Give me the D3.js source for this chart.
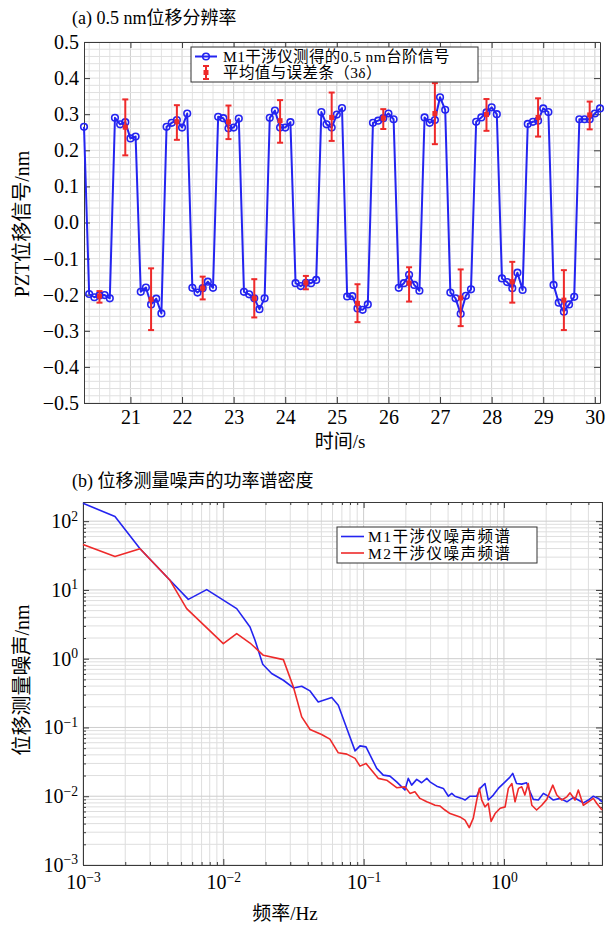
<!DOCTYPE html>
<html><head><meta charset="utf-8">
<script src="https://cdn.jsdelivr.net/npm/d3@7"></script>
<style>
body{margin:0;background:#fff}
svg text{font-family:"Liberation Serif","Noto Sans CJK SC",serif;fill:#000}
</style>
</head><body>
<svg id="c" width="608" height="927"></svg>
<script>
// ---------- (a) step signal data ----------
const timeS = [20.1,
 20.2,20.3,20.4,20.5,20.6, 20.7,20.8,20.9,21.0,21.1,
 21.2,21.3,21.4,21.5,21.6, 21.7,21.8,21.9,22.0,22.1,
 22.2,22.3,22.4,22.5,22.6, 22.7,22.8,22.9,23.0,23.1,
 23.2,23.3,23.4,23.5,23.6, 23.7,23.8,23.9,24.0,24.1,
 24.2,24.3,24.4,24.5,24.6, 24.7,24.8,24.9,25.0,25.1,
 25.2,25.3,25.4,25.5,25.6, 25.7,25.8,25.9,26.0,26.1,
 26.2,26.3,26.4,26.5,26.6, 26.7,26.8,26.9,27.0,27.1,
 27.2,27.3,27.4,27.5,27.6, 27.7,27.8,27.9,28.0,28.1,
 28.2,28.3,28.4,28.5,28.6, 28.7,28.8,28.9,29.0,29.1,
 29.2,29.3,29.4,29.5,29.6, 29.7,29.8,29.9,30.0,30.1];
const signalNm = [0.265,
 -0.198,-0.207,-0.202,-0.201,-0.210, 0.290,0.272,0.278,0.233,0.238,
 -0.192,-0.180,-0.227,-0.211,-0.252, 0.265,0.276,0.284,0.263,0.302,
 -0.181,-0.194,-0.182,-0.164,-0.181, 0.293,0.289,0.261,0.263,0.288,
 -0.192,-0.199,-0.210,-0.240,-0.210, 0.290,0.310,0.263,0.263,0.278,
 -0.168,-0.176,-0.167,-0.168,-0.159, 0.306,0.272,0.263,0.299,0.317,
 -0.205,-0.204,-0.238,-0.242,-0.227, 0.276,0.282,0.289,0.302,0.286,
 -0.181,-0.168,-0.145,-0.173,-0.189, 0.291,0.276,0.284,0.347,0.312,
 -0.194,-0.210,-0.253,-0.203,-0.185, 0.279,0.291,0.305,0.319,0.300,
 -0.155,-0.165,-0.182,-0.139,-0.187, 0.273,0.279,0.282,0.316,0.306,
 -0.173,-0.222,-0.247,-0.227,-0.206, 0.286,0.286,0.286,0.302,0.316];
const errTime = [20.4,20.9,21.4,21.9,22.4,22.9,23.4,23.9,24.4,24.9,25.4,25.9,26.4,26.9,27.4,27.9,28.4,28.9,29.4,29.9];
const errMean = [-0.204,0.264,-0.213,0.279,-0.182,0.279,-0.210,0.282,-0.167,0.291,-0.224,0.289,-0.168,0.302,-0.209,0.299,-0.164,0.291,-0.215,0.298];
const errUpper = [-0.190,0.341,-0.127,0.325,-0.150,0.324,-0.157,0.339,-0.148,0.360,-0.171,0.314,-0.124,0.386,-0.130,0.342,-0.109,0.344,-0.132,0.335];
const errLower = [-0.222,0.186,-0.298,0.229,-0.213,0.231,-0.263,0.221,-0.185,0.226,-0.276,0.259,-0.219,0.217,-0.287,0.254,-0.222,0.238,-0.298,0.258];
const xTicksA = [21,22,23,24,25,26,27,28,29,30];
const yTicksA = [-0.5,-0.4,-0.3,-0.2,-0.1,0,0.1,0.2,0.3,0.4,0.5];

// ---------- (b) PSD data ----------
const m1Freq = [0.001,0.00169,0.00255,0.00417,0.00563,0.00762,0.01246,0.0155,0.01683,0.0191,0.0221,0.0268,0.0316,0.0362,0.0415,0.0475,0.0593,0.066,0.0759,0.0869,0.0942,0.104,0.124,0.138,0.154,0.172,0.197,0.208,0.220,0.239,0.259,0.282,0.297,0.332,0.370,0.402,0.425,0.448,0.50,0.528,0.573,0.64,0.676,0.733,0.774,0.84,0.912,1.02,1.10,1.155,1.23,1.34,1.45,1.535,1.62,1.76,1.91,2.07,2.25,2.51,2.81,3.13,3.39,3.68,4.0,4.34,4.71,5.0];
const m1Noise = [182,117,39.7,13.8,7.3,10.1,5.35,2.89,1.85,0.83,0.608,0.486,0.376,0.398,0.34,0.235,0.272,0.211,0.0966,0.0457,0.054,0.0522,0.0254,0.0203,0.0196,0.0162,0.0123,0.0182,0.0145,0.0176,0.0157,0.0182,0.0162,0.014,0.013,0.010,0.011,0.010,0.0093,0.0088,0.010,0.010,0.013,0.0153,0.0088,0.0104,0.013,0.0162,0.0188,0.0215,0.0153,0.015,0.0157,0.0116,0.009,0.0088,0.011,0.010,0.0088,0.0093,0.0083,0.0096,0.0088,0.008,0.0088,0.010,0.0093,0.0083];
const m2Freq = [0.001,0.00169,0.00255,0.00417,0.00548,0.010,0.01246,0.0155,0.0193,0.0268,0.0316,0.0362,0.0415,0.0502,0.0575,0.066,0.0759,0.0869,0.0942,0.104,0.127,0.146,0.172,0.197,0.214,0.232,0.252,0.282,0.297,0.323,0.351,0.38,0.413,0.448,0.486,0.528,0.566,0.605,0.64,0.668,0.695,0.733,0.774,0.81,0.865,0.94,1.02,1.075,1.14,1.2,1.27,1.34,1.41,1.49,1.58,1.71,1.86,2.02,2.23,2.38,2.58,2.81,2.96,3.21,3.39,3.68,4.0,4.34,4.58,5.0];
const m2Noise = [45.9,30.7,39.7,13.8,5.35,1.66,2.32,1.69,1.12,0.97,0.388,0.1426,0.0935,0.079,0.0676,0.0428,0.041,0.0355,0.0274,0.030,0.0182,0.0171,0.0133,0.0137,0.011,0.0116,0.0093,0.0083,0.008,0.0074,0.0072,0.0063,0.0056,0.0053,0.005,0.0045,0.0035,0.0048,0.0088,0.013,0.0088,0.007,0.0079,0.0043,0.0056,0.0067,0.007,0.013,0.0153,0.0083,0.013,0.0137,0.0104,0.0153,0.0074,0.0063,0.0074,0.009,0.0145,0.0104,0.0088,0.0098,0.0112,0.0088,0.0123,0.0074,0.0083,0.0093,0.0079,0.0063];
const xTicksB = [0.001,0.01,0.1,1];
const yTicksB = [0.001,0.01,0.1,1,10,100];

const FONT = '"Liberation Serif","Noto Sans CJK SC",serif';
const BLUE = "#2424f0", RED = "#ee2a2a", AXC = "#3a3a3a";
const TICKFS = 20;
const svg = d3.select("#c");

function styleAxis(g, size){
  g.attr("font-family", FONT).attr("font-size", size);
  g.select(".domain").attr("stroke", AXC).attr("stroke-width", 1);
  g.selectAll(".tick line").attr("stroke", AXC);
  g.selectAll(".tick text").attr("fill", "#000");
}

// ================= (a) =================
const xA = d3.scaleLinear().domain([20.1, 30.1]).range([84, 600]);
const yA = d3.scaleLinear().domain([-0.5, 0.5]).range([403, 42]);
const gA = svg.append("g");

// grid
gA.append("g").selectAll("line").data(xA.ticks(50)).join("line")
  .attr("x1", d => xA(d)).attr("x2", d => xA(d)).attr("y1", 42).attr("y2", 403)
  .attr("stroke", d => xTicksA.includes(Math.round(d*10)/10) ? "#cfcfcf" : "#e2e2e2").attr("stroke-width", 1);
gA.append("g").selectAll("line").data(yA.ticks(50)).join("line")
  .attr("y1", d => yA(d)).attr("y2", d => yA(d)).attr("x1", 84).attr("x2", 600)
  .attr("stroke", "#e0e0e0").attr("stroke-width", 1);

// axes
styleAxis(gA.append("g").attr("transform", "translate(0,403)")
  .call(d3.axisBottom(xA).tickValues(xTicksA).tickSize(-6).tickSizeOuter(0).tickPadding(7).tickFormat(d3.format("d"))), TICKFS);
styleAxis(gA.append("g").attr("transform", "translate(0,42)")
  .call(d3.axisTop(xA).tickValues(xTicksA).tickSize(-6).tickSizeOuter(0).tickFormat("")), TICKFS);
styleAxis(gA.append("g").attr("transform", "translate(84,0)")
  .call(d3.axisLeft(yA).tickValues(yTicksA).tickSize(-6).tickSizeOuter(0).tickPadding(5).tickFormat(d3.format(".1f"))), TICKFS);
styleAxis(gA.append("g").attr("transform", "translate(600,0)")
  .call(d3.axisRight(yA).tickValues(yTicksA).tickSize(-6).tickSizeOuter(0).tickFormat("")), TICKFS);

// signal line + markers
const ptsA = timeS.map((t, i) => [t, signalNm[i]]);
gA.append("path").datum(ptsA)
  .attr("d", d3.line().x(d => xA(d[0])).y(d => yA(d[1])))
  .attr("fill", "none").attr("stroke", BLUE).attr("stroke-width", 2).attr("stroke-linejoin", "round");
gA.append("g").selectAll("circle").data(ptsA).join("circle")
  .attr("cx", d => xA(d[0])).attr("cy", d => yA(d[1])).attr("r", 3.3)
  .attr("fill", "none").attr("stroke", BLUE).attr("stroke-width", 1.6);

// error bars
const eb = gA.append("g").selectAll("g").data(errTime.map((t, i) => ({t, m: errMean[i], u: errUpper[i], l: errLower[i]}))).join("g")
  .attr("stroke", RED).attr("stroke-width", 2);
eb.append("line").attr("x1", d => xA(d.t)).attr("x2", d => xA(d.t)).attr("y1", d => yA(d.u)).attr("y2", d => yA(d.l));
eb.append("line").attr("x1", d => xA(d.t) - 3).attr("x2", d => xA(d.t) + 3).attr("y1", d => yA(d.u)).attr("y2", d => yA(d.u));
eb.append("line").attr("x1", d => xA(d.t) - 3).attr("x2", d => xA(d.t) + 3).attr("y1", d => yA(d.l)).attr("y2", d => yA(d.l));
eb.append("rect").attr("x", d => xA(d.t) - 2.5).attr("y", d => yA(d.m) - 2.5).attr("width", 5).attr("height", 5)
  .attr("fill", RED).attr("stroke", "none");

// legend (a)
const lgA = gA.append("g");
lgA.append("rect").attr("x", 191).attr("y", 47).attr("width", 287).attr("height", 35)
  .attr("fill", "#fff").attr("stroke", "#333").attr("stroke-width", 1);
lgA.append("line").attr("x1", 195).attr("x2", 217).attr("y1", 56.5).attr("y2", 56.5).attr("stroke", BLUE).attr("stroke-width", 2);
lgA.append("circle").attr("cx", 206).attr("cy", 56.5).attr("r", 3.3).attr("fill", "none").attr("stroke", BLUE).attr("stroke-width", 1.6);
lgA.append("line").attr("x1", 206).attr("x2", 206).attr("y1", 66).attr("y2", 79).attr("stroke", RED).attr("stroke-width", 2);
lgA.append("line").attr("x1", 203).attr("x2", 209).attr("y1", 66).attr("y2", 66).attr("stroke", RED).attr("stroke-width", 2);
lgA.append("line").attr("x1", 203).attr("x2", 209).attr("y1", 79).attr("y2", 79).attr("stroke", RED).attr("stroke-width", 2);
lgA.append("rect").attr("x", 203.5).attr("y", 70).attr("width", 5).attr("height", 5).attr("fill", RED);
lgA.append("text").attr("x", 223).attr("y", 62).attr("font-size", 15.5).attr("letter-spacing", 0.4).text("M1干涉仪测得的0.5 nm台阶信号");
lgA.append("text").attr("x", 223).attr("y", 78).attr("font-size", 15.5).attr("letter-spacing", 0.4).text("平均值与误差条（3δ）");

// labels (a)
svg.append("text").attr("x", 72).attr("y", 24).attr("font-size", 18).text("(a) 0.5 nm位移分辨率");
svg.append("text").attr("x", 340).attr("y", 448).attr("text-anchor", "middle").attr("font-size", 19).text("时间/s");
svg.append("text").attr("transform", "translate(29,224) rotate(-90)").attr("text-anchor", "middle").attr("font-size", 20).text("PZT位移信号/nm");

// ================= (b) =================
const xB = d3.scaleLog().domain([0.001, 5]).range([83, 602]);
const yB = d3.scaleLog().domain([0.001, 190]).range([865, 502]);
const gB = svg.append("g");

const minorX = [], minorY = [];
for (let k = -3; k <= 0; k++) for (let m = 1; m <= 9; m++) { const v = m * Math.pow(10, k); if (v <= 5.0001) minorX.push(v); }
for (let k = -3; k <= 2; k++) for (let m = 1; m <= 9; m++) { const v = m * Math.pow(10, k); if (v <= 190) minorY.push(v); }
const isDecade = v => Math.abs(Math.log10(v) - Math.round(Math.log10(v))) < 1e-6;

gB.append("g").selectAll("line").data(minorX).join("line")
  .attr("x1", d => xB(d)).attr("x2", d => xB(d)).attr("y1", 502).attr("y2", 865)
  .attr("stroke", d => isDecade(d) ? "#cdcdcd" : "#dedede").attr("stroke-width", 1);
gB.append("g").selectAll("line").data(minorY).join("line")
  .attr("y1", d => yB(d)).attr("y2", d => yB(d)).attr("x1", 83).attr("x2", 602)
  .attr("stroke", d => isDecade(d) ? "#cdcdcd" : "#dedede").attr("stroke-width", 1);

const minorOnlyX = minorX.filter(v => !isDecade(v));
const minorOnlyY = minorY.filter(v => !isDecade(v));
function supLabels(g){
  g.selectAll(".tick text").each(function(d){
    const t = d3.select(this); const e = Math.round(Math.log10(d));
    t.text(null);
    t.append("tspan").text("10");
    t.append("tspan").attr("dy", "-0.55em").attr("font-size", "0.68em").text(e < 0 ? "−" + (-e) : String(e));
  });
}
let ax;
ax = gB.append("g").attr("transform", "translate(0,865)")
  .call(d3.axisBottom(xB).tickValues(xTicksB).tickSize(-6).tickSizeOuter(0).tickPadding(10));
styleAxis(ax, TICKFS); supLabels(ax);
ax = gB.append("g").attr("transform", "translate(0,865)")
  .call(d3.axisBottom(xB).tickValues(minorOnlyX).tickSize(-3).tickSizeOuter(0).tickFormat(""));
styleAxis(ax, TICKFS);
ax = gB.append("g").attr("transform", "translate(0,502)")
  .call(d3.axisTop(xB).tickValues(xTicksB).tickSize(-6).tickSizeOuter(0).tickFormat(""));
styleAxis(ax, TICKFS);
ax = gB.append("g").attr("transform", "translate(0,502)")
  .call(d3.axisTop(xB).tickValues(minorOnlyX).tickSize(-3).tickSizeOuter(0).tickFormat(""));
styleAxis(ax, TICKFS);
ax = gB.append("g").attr("transform", "translate(83,0)")
  .call(d3.axisLeft(yB).tickValues(yTicksB).tickSize(-6).tickSizeOuter(0).tickPadding(5));
styleAxis(ax, TICKFS); supLabels(ax);
ax = gB.append("g").attr("transform", "translate(83,0)")
  .call(d3.axisLeft(yB).tickValues(minorOnlyY).tickSize(-3).tickSizeOuter(0).tickFormat(""));
styleAxis(ax, TICKFS);
ax = gB.append("g").attr("transform", "translate(602,0)")
  .call(d3.axisRight(yB).tickValues(yTicksB).tickSize(-6).tickSizeOuter(0).tickFormat(""));
styleAxis(ax, TICKFS);
ax = gB.append("g").attr("transform", "translate(602,0)")
  .call(d3.axisRight(yB).tickValues(minorOnlyY).tickSize(-3).tickSizeOuter(0).tickFormat(""));
styleAxis(ax, TICKFS);

const lineB = d3.line().x(d => xB(d[0])).y(d => yB(d[1]));
gB.append("path").datum(m1Freq.map((f, i) => [f, m1Noise[i]])).attr("d", lineB)
  .attr("fill", "none").attr("stroke", BLUE).attr("stroke-width", 1.6).attr("stroke-linejoin", "round");
gB.append("path").datum(m2Freq.map((f, i) => [f, m2Noise[i]])).attr("d", lineB)
  .attr("fill", "none").attr("stroke", RED).attr("stroke-width", 1.6).attr("stroke-linejoin", "round");

// legend (b)
const lgB = gB.append("g");
lgB.append("rect").attr("x", 337).attr("y", 527).attr("width", 200).attr("height", 36)
  .attr("fill", "#fff").attr("stroke", "#333").attr("stroke-width", 1);
lgB.append("line").attr("x1", 341).attr("x2", 364).attr("y1", 536.5).attr("y2", 536.5).attr("stroke", BLUE).attr("stroke-width", 1.6);
lgB.append("line").attr("x1", 341).attr("x2", 364).attr("y1", 553).attr("y2", 553).attr("stroke", RED).attr("stroke-width", 1.6);
lgB.append("text").attr("x", 368).attr("y", 541.5).attr("font-size", 15.5).attr("letter-spacing", 1.5).text("M1干涉仪噪声频谱");
lgB.append("text").attr("x", 368).attr("y", 558.5).attr("font-size", 15.5).attr("letter-spacing", 1.5).text("M2干涉仪噪声频谱");

// labels (b)
svg.append("text").attr("x", 72).attr("y", 487).attr("font-size", 18).text("(b) 位移测量噪声的功率谱密度");
svg.append("text").attr("x", 285).attr("y", 920).attr("text-anchor", "middle").attr("font-size", 19).text("频率/Hz");
svg.append("text").attr("transform", "translate(29,680) rotate(-90)").attr("text-anchor", "middle").attr("font-size", 20).text("位移测量噪声/nm");
</script>
</body></html>
